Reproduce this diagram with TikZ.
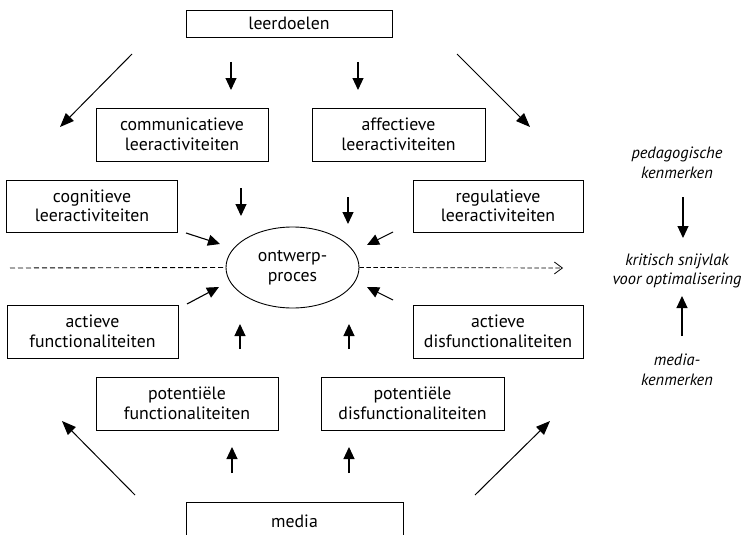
\documentclass[tikz,border=0pt]{standalone}
\usepackage{fontspec}
\setmainfont{PT Sans}
\usetikzlibrary{arrows.meta,shapes.geometric}
\begin{document}
\begin{tikzpicture}[x=1pt,y=-1pt,
  txt/.style={font=\fontsize{17.8}{19.5}\selectfont,align=center,inner sep=0pt},
  box/.style={txt,draw,line width=0.9pt,anchor=center},
  itxt/.style={font=\fontsize{16.4}{19.5}\selectfont\itshape,align=center,inner sep=0pt},
  arr/.style={line width=1.1pt,-{Triangle[length=12pt,width=11pt]}},
  darr/.style={line width=1pt,-{Triangle[length=14pt,width=11pt]}}]
\clip (0,0) rectangle (744,535);
\useasboundingbox (0,0) rectangle (744,535);
% boxes
\node[box,minimum width=206pt,minimum height=27pt] (leer) at (289,23.5) {leerdoelen};
\node[box,minimum width=172pt,minimum height=53pt] (comm) at (182,134.5) {communicatieve\\leeractiviteiten};
\node[box,minimum width=173pt,minimum height=53pt] (aff) at (398.5,134.5) {affectieve\\leeractiviteiten};
\node[box,minimum width=171pt,minimum height=52pt] (cog) at (92,206) {cognitieve\\leeractiviteiten};
\node[box,minimum width=170pt,minimum height=52pt] (reg) at (498,206) {regulatieve\\leeractiviteiten};
\node[box,minimum width=171pt,minimum height=53pt] (afu) at (92.5,331.5) {actieve\\functionaliteiten};
\node[box,minimum width=170pt,minimum height=53pt] (adf) at (498,331.5) {actieve\\disfunctionaliteiten};
\node[box,minimum width=182pt,minimum height=53pt] (pfu) at (187,403.5) {potentiële\\functionaliteiten};
\node[box,minimum width=183pt,minimum height=53pt] (pdf) at (412.5,403.5) {potentiële\\disfunctionaliteiten};
\node[box,minimum width=217pt,minimum height=38pt] (med) at (294.5,521) {media};
% ellipse
\node[txt,draw,ellipse,line width=0.9pt,minimum width=133pt,minimum height=81pt] (ont) at (292.5,267.5) {ontwerp-\\proces};
% right texts
\node[itxt] (ped) at (677,163) {pedagogische\\kenmerken};
\node[itxt] (krit) at (677,271) {kritisch snijvlak\\voor optimalisering};
\node[itxt] (mk) at (677,370) {media-\\kenmerken};
% coordinates for arrows
\coordinate (d1s) at (132,54);   \coordinate (d1e) at (60,127);
\coordinate (d2s) at (457,54);   \coordinate (d2e) at (530,127);
\coordinate (a1s) at (231,62);   \coordinate (a1e) at (231,90);
\coordinate (a2s) at (358,62);   \coordinate (a2e) at (358,90);
\coordinate (a3s) at (241,188);  \coordinate (a3e) at (241,216);
\coordinate (a4s) at (348,197);  \coordinate (a4e) at (348,224);
\coordinate (a5s) at (186,233);  \coordinate (a5e) at (220,244);
\coordinate (a6s) at (393,232);  \coordinate (a6e) at (367,245);
\coordinate (a7s) at (187,304);  \coordinate (a7e) at (219,287);
\coordinate (a8s) at (393,300);  \coordinate (a8e) at (367,287);
\coordinate (a9s) at (240,349);  \coordinate (a9e) at (240,324);
\coordinate (a10s) at (349,349); \coordinate (a10e) at (349,324);
\coordinate (a11s) at (232,473); \coordinate (a11e) at (232,447);
\coordinate (a12s) at (349,473); \coordinate (a12e) at (349,447);
\coordinate (d3s) at (135,495);  \coordinate (d3e) at (62,421);
\coordinate (d4s) at (475,495);  \coordinate (d4e) at (550,421);
\coordinate (r1s) at (683,197);  \coordinate (r1e) at (683,238);
\coordinate (r2s) at (682,336);  \coordinate (r2e) at (682,296);
\coordinate (dl) at (10,268);
\coordinate (dr) at (563,268);
% arrows
\foreach \s/\e in {d1s/d1e,d2s/d2e,d3s/d3e,d4s/d4e}
  \draw[darr] (\s) -- (\e);
\foreach \s/\e in {a1s/a1e,a2s/a2e,a3s/a3e,a4s/a4e,a5s/a5e,a6s/a6e,a7s/a7e,a8s/a8e,a9s/a9e,a10s/a10e,a11s/a11e,a12s/a12e,r1s/r1e,r2s/r2e}
  \draw[arr] (\s) -- (\e);
% dashed line
\draw[line width=0.9pt,dash pattern=on 5pt off 3pt] (dl) -- (ont.west);
\draw[line width=0.7pt,dash pattern=on 4.5pt off 2.5pt,-{Straight Barb[length=8pt,width=12pt,line width=0.8pt]}] (ont.east) -- (dr);
\end{tikzpicture}
\end{document}
